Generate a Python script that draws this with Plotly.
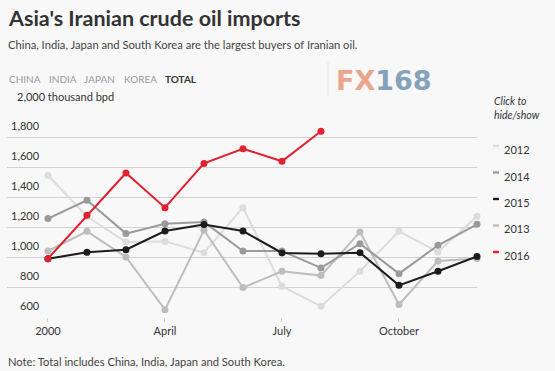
import plotly.graph_objects as go

# ---------------- data ----------------
months = ["Jan", "Feb", "Mar", "Apr", "May", "Jun", "Jul", "Aug", "Sep", "Oct", "Nov", "Dec"]
x_tick_months = ["Jan", "Apr", "Jul", "Oct"]
x_tick_labels = ["2000", "April", "July", "October"]

y_ticks = [600, 800, 1000, 1200, 1400, 1600, 1800, 2000]
y_tick_labels = ["600", "800", "1,000", "1,200", "1,400", "1,600", "1,800", "2,000 thousand bpd"]

imports_2012 = [1545, 1270, 1100, 1104, 1029, 1329, 805, 671, 905, 1171, 1033, 1271]
imports_2013 = [1040, 1171, 1000, 649, 1178, 796, 905, 876, 1167, 684, 973, 990]
imports_2014 = [1256, 1378, 1156, 1222, 1233, 1040, 1040, 927, 1089, 889, 1078, 1218]
imports_2015 = [989, 1031, 1049, 1173, 1216, 1173, 1027, 1022, 1029, 811, 905, 1004]
imports_2016 = [989, 1278, 1560, 1329, 1624, 1722, 1638, 1838]

draw_order = ["2012", "2013", "2014", "2015", "2016"]
legend_order = ["2012", "2014", "2015", "2013", "2016"]
buttons = ["CHINA", "INDIA", "JAPAN", "KOREA", "TOTAL"]

title_text = "Asia's Iranian crude oil imports"
subtitle_text = "China, India, Japan and South Korea are the largest buyers of Iranian oil."
note_text = "Note: Total includes China, India, Japan and South Korea."

# ---------------- styles ----------------
series = {
    "2012": imports_2012,
    "2013": imports_2013,
    "2014": imports_2014,
    "2015": imports_2015,
    "2016": imports_2016,
}
colors = {
    "2012": "#dcdcdc",
    "2013": "#bdbdbd",
    "2014": "#9a9a9a",
    "2015": "#1c1c1c",
    "2016": "#e0212f",
}
FONT = "Lato"
BG = "#f8f8f8"

W, H = 555, 371
L, R, T, B = 7, 78, 107, 54
PW, PH = W - L - R, H - T - B


def px(x):
    return (x - L) / PW


def py(y):
    return (H - B - y) / PH


fig = go.Figure()

# legend entries (their own traces, linked to data traces via legendgroup)
for yr in legend_order:
    fig.add_trace(go.Scatter(
        x=[None], y=[None], mode="markers", name=yr, legendgroup=yr,
        marker=dict(color="rgba(0,0,0,0)", size=1, line=dict(width=0)),
        showlegend=True, hoverinfo="skip",
    ))

# data traces
for yr in draw_order:
    vals = series[yr]
    fig.add_trace(go.Scatter(
        x=months[:len(vals)], y=vals, mode="lines+markers", name=yr, legendgroup=yr,
        showlegend=False,
        line=dict(color=colors[yr], width=2),
        marker=dict(color=colors[yr], size=7),
        hovertemplate="%{x} " + yr + ": %{y:,}<extra></extra>",
        cliponaxis=False,
    ))

annotations = []
# y tick labels above gridlines
for v, lab in zip(y_ticks, y_tick_labels):
    if v == y_ticks[-1]:
        annotations.append(dict(x=px(15), xref="paper", xanchor="left", y=v, yref="y",
                                yanchor="bottom", yshift=2, text=lab, showarrow=False,
                                font=dict(family=FONT, size=11, color="#333")))
    else:
        annotations.append(dict(x=px(42), xref="paper", xanchor="right", y=v, yref="y",
                                yanchor="bottom", yshift=3, text=lab, showarrow=False,
                                font=dict(family=FONT, size=11, color="#333")))

# title, subtitle, note
annotations.append(dict(x=px(6), y=py(18), xref="paper", yref="paper", xanchor="left",
                        yanchor="middle", text="<b>" + title_text + "</b>", showarrow=False,
                        font=dict(family=FONT, size=21.5, color="#333")))
annotations.append(dict(x=px(6), y=py(45), xref="paper", yref="paper", xanchor="left",
                        yanchor="middle", text=subtitle_text, showarrow=False,
                        font=dict(family=FONT, size=11.2, color="#444")))
annotations.append(dict(x=px(6), y=py(361), xref="paper", yref="paper", xanchor="left",
                        yanchor="middle", text=note_text, showarrow=False,
                        font=dict(family=FONT, size=11.2, color="#444")))

# buttons row
button_x = [7, 47, 82, 122, 163]
for bx, b in zip(button_x, buttons):
    active = b == "TOTAL"
    annotations.append(dict(x=px(bx), y=py(79), xref="paper", yref="paper", xanchor="left",
                            yanchor="middle", text=("<b>%s</b>" % b) if active else b,
                            showarrow=False,
                            font=dict(family=FONT, size=10, color="#333" if active else "#9a9a9a")))

# logo
annotations.append(dict(x=px(334), y=py(80), xref="paper", yref="paper", xanchor="left",
                        yanchor="middle",
                        text="<b><span style='color:#e9a68d'>FX</span><span style='color:#85a2ba'>168</span></b>",
                        showarrow=False, font=dict(family="DejaVu Sans", size=27)))

# click to hide/show
annotations.append(dict(x=px(492), y=py(107.5), xref="paper", yref="paper", xanchor="left",
                        yanchor="middle", align="left", text="<i>Click to<br>hide/show</i>",
                        showarrow=False, font=dict(family=FONT, size=10.5, color="#333")))

shapes = []
# separator next to logo
shapes.append(dict(type="line", xref="paper", yref="paper", x0=px(328), x1=px(328),
                   y0=py(62), y1=py(97), line=dict(color="#e2e2e2", width=1)))
# legend swatches
dash_y = [146, 172.5, 199, 225.5, 252]
for yr, dy in zip(legend_order, dash_y):
    shapes.append(dict(type="rect", xref="paper", yref="paper", x0=px(493), x1=px(499),
                       y0=py(dy - 1.2), y1=py(dy + 1.2), line=dict(width=0),
                       fillcolor=colors[yr]))

fig.update_layout(
    width=W, height=H,
    margin=dict(l=L, r=R, t=T, b=B, pad=0),
    paper_bgcolor=BG, plot_bgcolor=BG,
    font=dict(family=FONT, color="#333"),
    showlegend=True,
    legend=dict(x=px(464), y=py(135.5), xanchor="left", yanchor="top",
                bgcolor="rgba(0,0,0,0)", borderwidth=0, tracegroupgap=7.4,
                font=dict(family=FONT, size=11, color="#333")),
    xaxis=dict(type="category", categoryorder="array", categoryarray=months,
               range=[-1.05, 11], tickmode="array", tickvals=x_tick_months,
               ticktext=x_tick_labels, ticks="outside", ticklen=4, tickcolor="#cccccc",
               showgrid=False, zeroline=False, showline=False,
               tickfont=dict(family=FONT, size=11, color="#333")),
    yaxis=dict(range=[600, 2000], tickmode="array", tickvals=y_ticks,
               showticklabels=False, gridcolor="#d2d2d2", gridwidth=1,
               zeroline=False, showline=False),
    annotations=annotations,
    shapes=shapes,
)

fig.write_html("out.html", config={"displayModeBar": False},
               post_script="document.body.style.margin='0px';document.body.style.overflow='hidden';")
